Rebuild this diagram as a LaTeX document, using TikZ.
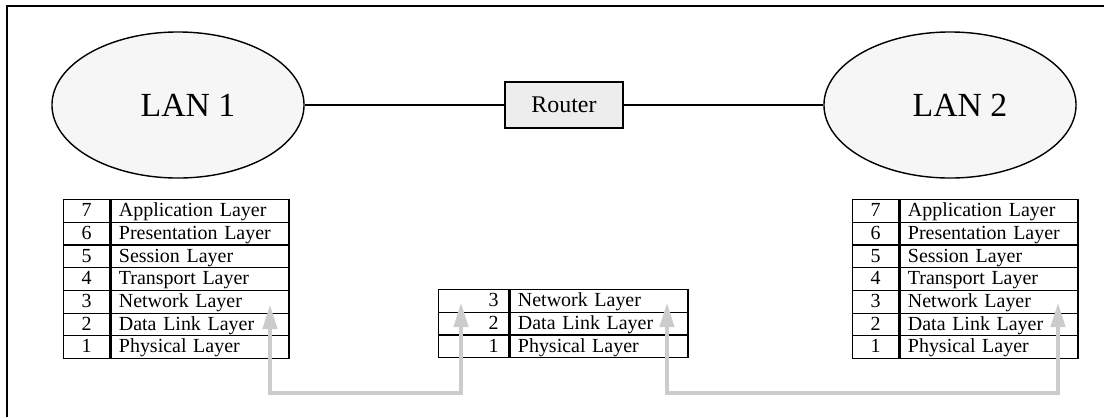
\documentclass[tikz,border=0pt]{standalone}
\usepackage{fontspec}
\setmainfont{Liberation Serif}
\usetikzlibrary{arrows.meta,positioning,shapes.geometric}
\tikzset{
  lan node/.style   = {draw, ellipse, line width=1pt, fill=gray!7,
                        minimum width=6.3cm, minimum height=3.65cm, inner sep=0pt,
                        font=\fontsize{24}{28}\selectfont},
  router box/.style = {draw, line width=1pt, fill=gray!14, minimum width=2.95cm,
                        minimum height=1.15cm, inner sep=0pt,
                        font=\fontsize{17}{20}\selectfont},
  cell/.style       = {draw, line width=0.9pt, minimum height=0.5675cm,
                        inner ysep=0pt, text height=10pt, text depth=2pt,
                        font=\fontsize{14.2}{16}\selectfont},
  num cell/.style   = {cell, inner xsep=0pt, text width=1.15cm, align=center},
  mid num cell/.style = {cell, inner xsep=0.25cm, text width=1.25cm, align=right},
  name cell/.style  = {cell, inner xsep=0.2cm, text width=4.05cm, align=left},
  link/.style       = {line width=1pt},
  flow arr/.style   = {{Triangle[length=0.6cm,width=0.36cm]}-{Triangle[length=0.6cm,width=0.36cm]},
                        line width=2.4pt, draw=black!20},
}

\begin{document}
\begin{tikzpicture}[x=0.025cm, y=-0.025cm]
  \useasboundingbox (0,0) rectangle (1104,417);
  \draw[line width=1.4pt] (7,417) -- (7,6) -- (1104,6);

  \node[lan node]   (lan1)   at (178,105) {\hspace*{0.5cm}LAN 1};
  \node[router box] (router) at (564,105) {Router};
  \node[lan node]   (lan2)   at (950,105) {\hspace*{0.5cm}LAN 2};
  \draw[link] (lan1) -- (router);
  \draw[link] (router) -- (lan2);

  % OSI stacks of the two hosts
  \foreach \n/\txt [count=\i from 0] in {7/Application Layer, 6/Presentation Layer,
      5/Session Layer, 4/Transport Layer, 3/Network Layer, 2/Data Link Layer,
      1/Physical Layer} {
    \node[num cell, anchor=north west] (lnum\n) at (63,{199+\i*22.7}) {\n};
    \node[name cell, right=0pt of lnum\n] (lname\n) {\txt};
    \node[num cell, anchor=north west] (rnum\n) at (852,{199+\i*22.7}) {\n};
    \node[name cell, right=0pt of rnum\n] (rname\n) {\txt};
  }

  % router stack
  \foreach \n/\txt [count=\i from 0] in {3/Network Layer, 2/Data Link Layer,
      1/Physical Layer} {
    \node[mid num cell, anchor=north west] (mnum\n) at (438,{289+\i*22.7}) {\n};
    \node[name cell, right=0pt of mnum\n] (mname\n) {\txt};
  }

  \coordinate (lup)  at (270,305);
  \coordinate (mlup) at (461,303);
  \coordinate (mrup) at (667,303);
  \coordinate (rup)  at (1058,303);
  \draw[flow arr] (lup) -- ++(0,88) -| (mlup);
  \draw[flow arr] (mrup) -- ++(0,90) -| (rup);
\end{tikzpicture}
\end{document}
